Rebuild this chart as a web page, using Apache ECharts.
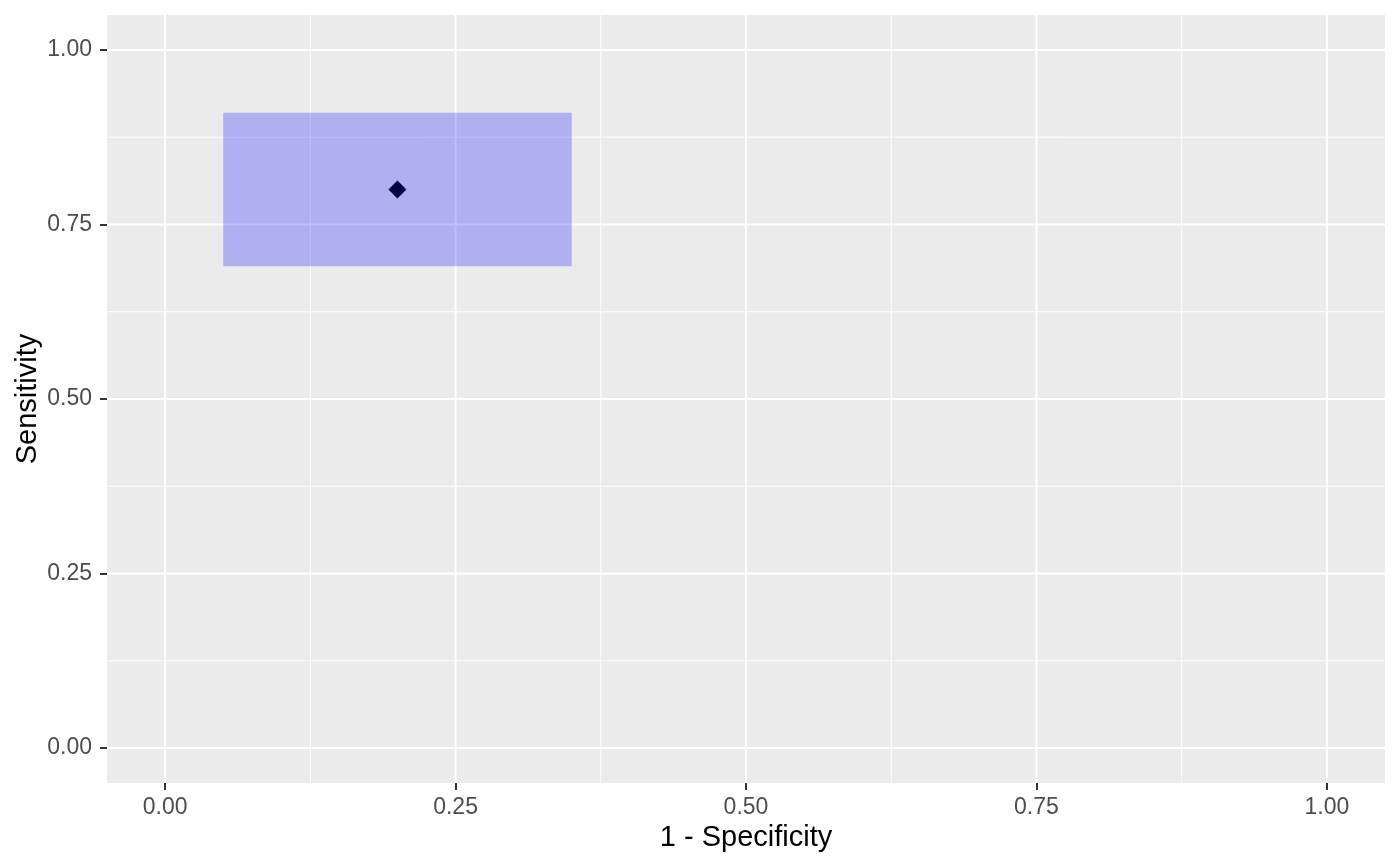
<!DOCTYPE html>
<html>
<head>
<meta charset="utf-8">
<script src="https://cdn.jsdelivr.net/npm/echarts@6/dist/echarts.min.js"></script>
<style>
  html, body { margin: 0; padding: 0; background: #fff; }
  #chart { width: 1400px; height: 866px; }
</style>
</head>
<body>
<div id="chart"></div>
<script>
// tick positions (both axes use the same breaks)
const majorTicks = [0, 0.25, 0.5, 0.75, 1];
const minorTicks = [0.125, 0.375, 0.625, 0.875];

// point estimate
const pointX = [0.2];
const pointY = [0.8];

// confidence box: [x lower, x upper], [y lower, y upper]
const boxX = [0.05, 0.35];
const boxY = [0.69, 0.91];

const FONT = 'Liberation Sans, Arial, Helvetica, sans-serif';

// grid lines as data: [value, isVertical, isMajor]
let gridData = [];
majorTicks.forEach(v => { gridData.push([v, 1, 1]); gridData.push([v, 0, 1]) });
minorTicks.forEach(v => { gridData.push([v, 1, 0]); gridData.push([v, 0, 0]) });

let myChart = echarts.init(document.getElementById('chart'), null, { renderer: 'canvas' });

myChart.setOption({
    animation: false,
    grid: {
        left: 107, right: 15, top: 15, bottom: 83,
        containLabel: false,
        outerBoundsMode: 'none',
        show: true, backgroundColor: '#EBEBEB', borderWidth: 0
    },
    xAxis: {
        type: 'value',
        min: -0.05, max: 1.05,
        name: '1 - Specificity',
        nameLocation: 'middle',
        nameGap: 40,
        nameMoveOverlap: false,
        nameTextStyle: { fontFamily: FONT, fontSize: 29, color: '#000' },
        axisLine: { show: false, onZero: false },
        axisTick: { show: true, customValues: majorTicks, length: 7, lineStyle: { color: '#333', width: 2 } },
        axisLabel: { customValues: majorTicks, formatter: v => v.toFixed(2), margin: 13, fontFamily: FONT, fontSize: 23, color: '#4D4D4D' },
        splitLine: { show: false }
    },
    yAxis: {
        type: 'value',
        min: -0.05, max: 1.05,
        name: 'Sensitivity',
        nameLocation: 'middle',
        nameGap: 65,
        nameMoveOverlap: false,
        nameTextStyle: { fontFamily: FONT, fontSize: 29, color: '#000' },
        axisLine: { show: false, onZero: false },
        axisTick: { show: true, customValues: majorTicks, length: 7, lineStyle: { color: '#333', width: 2 } },
        axisLabel: { customValues: majorTicks, formatter: v => v.toFixed(2), margin: 15, fontFamily: FONT, fontSize: 23, color: '#4D4D4D' },
        splitLine: { show: false }
    },
    series: [
        {
            // panel grid lines
            type: 'custom',
            silent: true,
            z: 1,
            data: gridData,
            renderItem: (params, api) => {
                let v = api.value(0);
                let vertical = api.value(1) === 1;
                let major = api.value(2) === 1;
                let cs = params.coordSys;
                let shape;
                if (vertical) {
                    let px = api.coord([v, 0])[0];
                    shape = { x1: px, y1: cs.y, x2: px, y2: cs.y + cs.height };
                } else {
                    let py = api.coord([0, v])[1];
                    shape = { x1: cs.x, y1: py, x2: cs.x + cs.width, y2: py };
                }
                return {
                    type: 'line',
                    shape: shape,
                    style: { stroke: '#FFFFFF', lineWidth: major ? 2 : 1 }
                };
            }
        },
        {
            type: 'scatter',
            z: 2,
            symbol: 'diamond',
            symbolSize: 18,
            itemStyle: { color: '#000000', opacity: 1 },
            data: pointX.map((x, i) => [x, pointY[i]])
        },
        {
            // shaded box drawn over the point
            type: 'custom',
            z: 3,
            silent: true,
            data: [[boxX[0], boxY[0], boxX[1], boxY[1]]],
            renderItem: (params, api) => {
                let p0 = api.coord([api.value(0), api.value(3)]);
                let p1 = api.coord([api.value(2), api.value(1)]);
                return {
                    type: 'rect',
                    shape: { x: p0[0], y: p0[1], width: p1[0] - p0[0], height: p1[1] - p0[1] },
                    style: { fill: 'rgba(0,0,255,0.25)' }
                };
            }
        }
    ]
})
</script>
</body>
</html>
